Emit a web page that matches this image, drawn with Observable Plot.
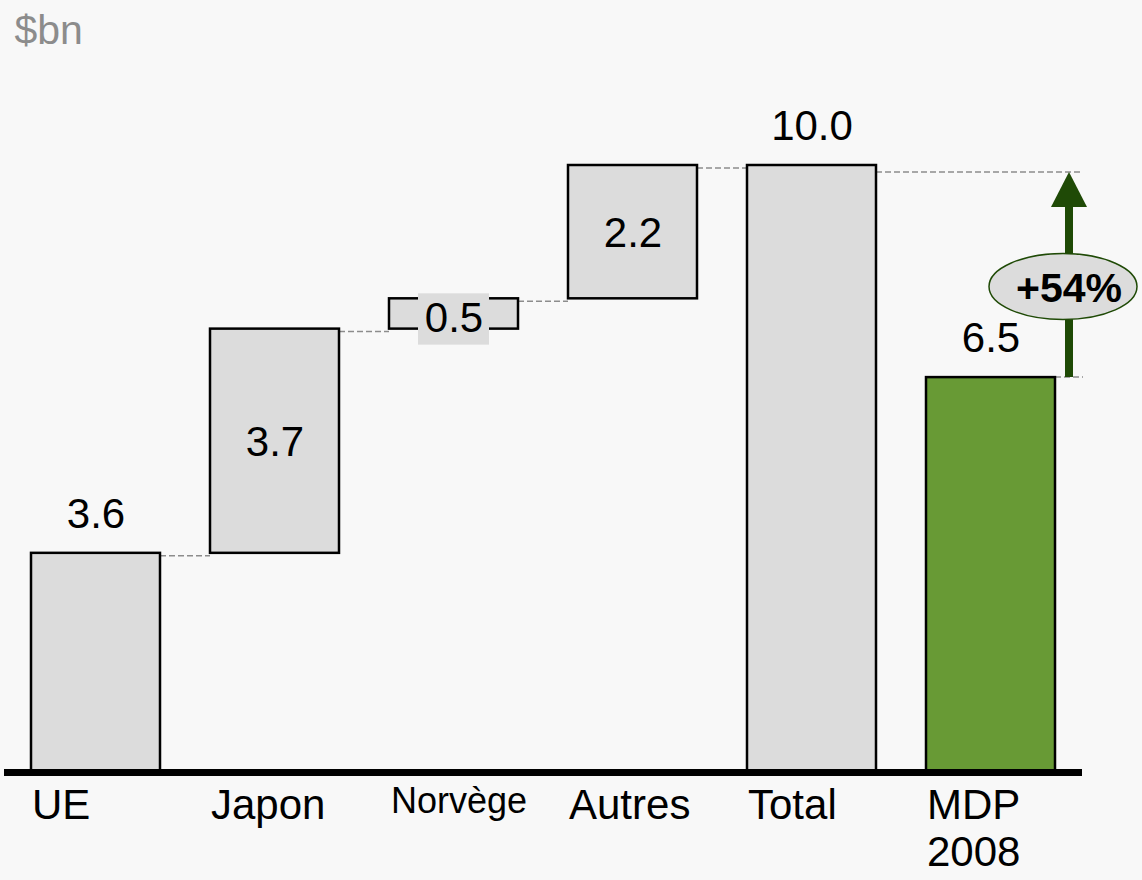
<!DOCTYPE html>
<html><head><meta charset="utf-8">
<script src="https://cdn.jsdelivr.net/npm/d3@7"></script>
<script src="https://cdn.jsdelivr.net/npm/@observablehq/plot@0.6"></script>
<style>
html,body{margin:0;padding:0;background:#f8f8f8;}
#chart svg{display:block;}
</style></head><body><div id="chart"></div>
<script>
// ---- data ----
const categories = ["UE", "Japon", "Norvège", "Autres", "Total", "MDP 2008"];
const categoryLabels = ["UE", "Japon", "Norvège", "Autres", "Total", "MDP\n2008"];
const values = [3.6, 3.7, 0.5, 2.2, 10.0, 6.5];
const kinds = ["delta", "delta", "delta", "delta", "total", "compare"];
const unitLabel = "$bn";

// ---- build waterfall table ----
let run = 0;
const rows = categories.map((c, i) => {
  let y1, y2;
  if (kinds[i] === "delta") { y1 = run; y2 = run + values[i]; run = y2; }
  else { y1 = 0; y2 = values[i]; }
  return {cat: c, label: categoryLabels[i], value: values[i], kind: kinds[i], y1, y2, mid: (y1 + y2) / 2};
});
const connectors = [];
for (let i = 0; i < rows.length - 2; i++) {
  connectors.push({from: rows[i].cat, to: rows[i + 1].cat, level: rows[i].y2});
}
const totalRow = rows.find(d => d.kind === "total");
const compareRow = rows.find(d => d.kind === "compare");
const pct = Math.round((totalRow.value / compareRow.value - 1) * 100);
const pctLabel = "+" + pct + "%";

const GRAY = "#dcdcdc", GREEN = "#689a35", DARK = "#1f4a06", DASH = "#8c8c8c";
const FONT = "'Liberation Sans', Arial, Helvetica, sans-serif";

function overlay(index, scales) {
  const x = scales.x, y = scales.y;
  const bw = typeof x.bandwidth === "function" ? x.bandwidth() : x.bandwidth;
  const g = d3.create("svg:g");
  const dash = (x1, x2, yy) => g.append("line")
    .attr("x1", x1).attr("x2", x2).attr("y1", yy).attr("y2", yy)
    .attr("stroke", DASH).attr("stroke-width", 1.5).attr("stroke-dasharray", "6 3");
  connectors.forEach(c => dash(x(c.from) + bw, x(c.to), y(c.level) + 3));
  const ax = x(compareRow.cat) + bw + 14;
  const yTop = y(totalRow.y2) + 7, yBot = y(compareRow.y2);
  dash(x(totalRow.cat) + bw, ax + 14, yTop);
  dash(x(compareRow.cat) + bw, ax + 14, yBot);
  g.append("line").attr("x1", ax).attr("x2", ax).attr("y1", yBot).attr("y2", yTop + 30)
    .attr("stroke", DARK).attr("stroke-width", 8);
  g.append("path").attr("d", `M${ax},${yTop} L${ax + 18},${yTop + 35} L${ax - 18},${yTop + 35} Z`).attr("fill", DARK);
  const cy = (yTop + yBot) / 2 + 12;
  g.append("ellipse").attr("cx", ax - 6).attr("cy", cy).attr("rx", 74).attr("ry", 33)
    .attr("fill", GRAY).attr("stroke", DARK).attr("stroke-width", 1.5);
  g.append("text").attr("x", ax).attr("y", cy + 15).attr("text-anchor", "middle")
    .attr("font-family", FONT).attr("font-size", 41).attr("font-weight", "bold").attr("fill", "#000")
    .text(pctLabel);
  return g.node();
}

const chart = Plot.plot({
  width: 1142, height: 880,
  marginLeft: 4, marginRight: 60, marginTop: 165, marginBottom: 109,
  style: {background: "#f8f8f8", fontFamily: FONT, overflow: "visible"},
  x: {domain: categories, paddingInner: 0.28, paddingOuter: 0.14, axis: null},
  y: {domain: [0, 10], axis: null},
  marks: [
    overlay,
    Plot.barY(rows.filter(d => d.kind !== "compare"), {x: "cat", y1: "y1", y2: "y2", fill: GRAY, stroke: "#000", strokeWidth: 2.5}),
    Plot.barY(rows.filter(d => d.kind === "compare"), {x: "cat", y1: "y1", y2: "y2", fill: GREEN, stroke: "#000", strokeWidth: 2.5}),
    Plot.barY(rows.filter(d => d.kind === "delta" && d.value < 1), {x: "cat", y1: "y1", y2: "y2", fill: GRAY, insetLeft: 29, insetRight: 29, insetTop: -5, insetBottom: -16}),
    Plot.text(rows.filter(d => d.y1 > 0 && d.value >= 1), {x: "cat", y: "mid", text: d => d.value.toFixed(1), fontSize: 42, dy: 1, fill: "#000"}),
    Plot.text(rows.filter(d => d.y1 > 0 && d.value < 1), {x: "cat", y: "mid", text: d => d.value.toFixed(1), fontSize: 42, dy: 5, fill: "#000"}),
    Plot.text(rows.filter(d => d.y1 === 0), {x: "cat", y: "y2", text: d => d.value.toFixed(1), fontSize: 42, dy: -39, fill: "#000"}),
    Plot.ruleY([0], {stroke: "#000", strokeWidth: 7, dy: 1}),
    Plot.text(rows.filter(d => d.cat !== "Norvège"), {x: "cat", y: 0, text: "label", textAnchor: "start", lineAnchor: "top", dx: -64, dy: 14, fontSize: 42, lineHeight: 1.12, fill: "#000"}),
    Plot.text(rows.filter(d => d.cat === "Norvège"), {x: "cat", y: 0, text: "label", textAnchor: "start", lineAnchor: "top", dx: -63, dy: 16, fontSize: 36, fill: "#000"}),
    Plot.text([unitLabel], {frameAnchor: "top-left", text: d => d, textAnchor: "start", lineAnchor: "top", dx: 10, dy: -151, fontSize: 41, fill: "#8c8c8c"})
  ]
});
document.getElementById("chart").appendChild(chart);
</script>
</body></html>
